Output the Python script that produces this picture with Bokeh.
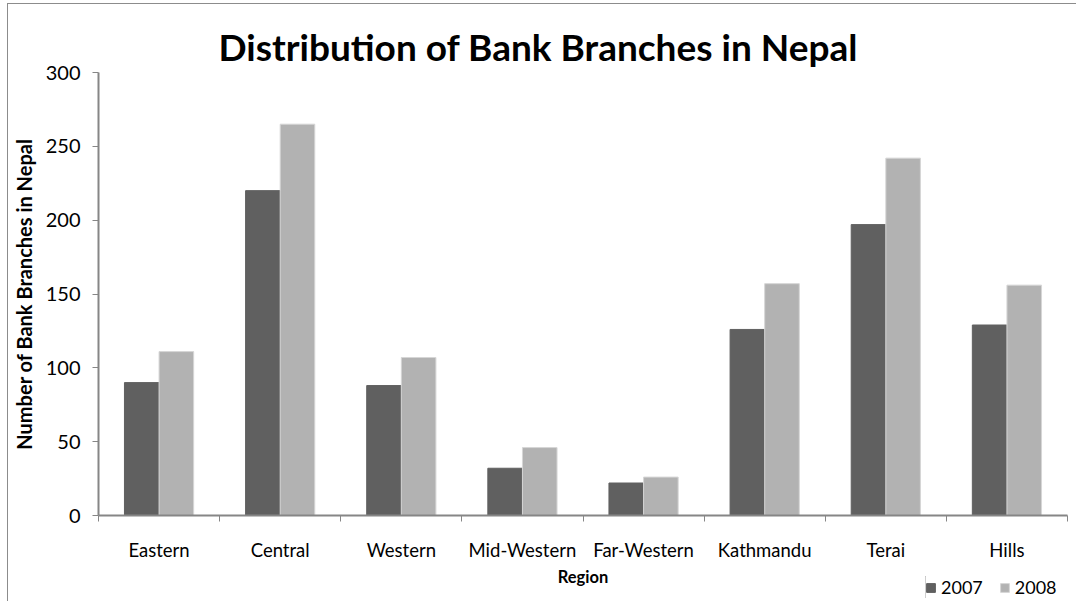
from bokeh.plotting import figure
from bokeh.models import Range1d, FixedTicker, Legend, LegendItem
from bokeh.layouts import column
from bokeh.embed import file_html
from bokeh.resources import INLINE
import numpy as np

regions = ["Eastern", "Central", "Western", "Mid-Western", "Far-Western", "Kathmandu", "Terai", "Hills"]
branches_2007 = [90, 220, 88, 32, 22, 126, 197, 129]
branches_2008 = [111, 265, 107, 46, 26, 157, 242, 156]
years = ["2007", "2008"]
y_ticks = [0, 50, 100, 150, 200, 250, 300]

FONT = "Lato"
AXIS_COLOR = "#868686"
DARK = "#606060"
LIGHT = "#b2b2b2"
LIGHT_EDGE = "#d6d6d6"

p = figure(width=1069, height=598, output_backend="svg", toolbar_location=None,
           x_range=Range1d(0, len(regions)), y_range=Range1d(0, 300),
           min_border_left=89, min_border_right=10, min_border_top=68, min_border_bottom=87)
p.margin = (3, 0, 0, 7)

centers = np.arange(len(regions)) + 0.5
bw = 1 / 3.5
p.vbar(x=centers - bw / 2, top=branches_2007, width=bw, fill_color=DARK, line_color=DARK)
p.vbar(x=centers + bw / 2, top=branches_2008, width=bw, fill_color=LIGHT, line_color=LIGHT_EDGE)

p.title.text = "Distribution of Bank Branches in Nepal"
p.title.text_font = FONT
p.title.text_font_size = "37px"
p.title.text_font_style = "bold"
p.title.align = "left"
p.title.offset = 120
p.title.standoff = 8
p.title.text_color = "#000000"

p.xgrid.visible = False
p.ygrid.visible = False
p.outline_line_color = None

# x axis: labels at category centres, ticks at category boundaries
p.xaxis.ticker = FixedTicker(ticks=list(centers), minor_ticks=list(range(len(regions) + 1)))
p.xaxis.major_label_overrides = {float(c): r for c, r in zip(centers, regions)}
p.xaxis.major_tick_line_color = None
p.xaxis.major_tick_out = 0
p.xaxis.major_tick_in = 0
p.xaxis.minor_tick_out = 6
p.xaxis.minor_tick_in = 0
p.xaxis.minor_tick_line_color = AXIS_COLOR
p.xaxis.axis_line_color = AXIS_COLOR
p.xaxis.axis_line_width = 2
p.xaxis.major_label_standoff = 17
p.xaxis.major_label_text_font_size = "18.5px"
p.xaxis.axis_label = "Region"
p.xaxis.axis_label_text_font_size = "16.5px"
p.xaxis.axis_label_standoff = 3

p.yaxis.ticker = FixedTicker(ticks=y_ticks)
p.yaxis.minor_tick_line_color = None
p.yaxis.major_tick_out = 6
p.yaxis.major_tick_in = 0
p.yaxis.major_tick_line_color = AXIS_COLOR
p.yaxis.axis_line_color = AXIS_COLOR
p.yaxis.axis_line_width = 2
p.yaxis.major_label_standoff = 12
p.yaxis.major_label_text_font_size = "20px"
p.yaxis.axis_label = "Number of Bank Branches in Nepal"
p.yaxis.axis_label_text_font_size = "20px"
p.yaxis.axis_label_standoff = 7

for ax in (p.xaxis, p.yaxis):
    ax.major_label_text_font = FONT
    ax.major_label_text_color = "#000000"
    ax.axis_label_text_font = FONT
    ax.axis_label_text_font_style = "bold"
    ax.axis_label_text_color = "#000000"

p.styles = {"border-left": "1px solid #8c8c8c", "border-top": "1px solid #8c8c8c"}

# legend strip, laid over the bottom right corner of the chart
# (its frame is aligned with the chart's frame by the column layout)
leg = figure(width=240, height=22, output_backend="svg", toolbar_location=None,
             x_range=Range1d(100, 101), y_range=Range1d(0, 1),
             x_axis_type=None, y_axis_type=None,
             min_border=0, min_border_left=89, min_border_right=10,
             min_border_top=0, min_border_bottom=0)
leg.margin = (-25, 0, 0, 835)
leg.title.visible = False
leg.xgrid.visible = False
leg.ygrid.visible = False
leg.outline_line_color = None
lr1 = leg.vbar(x=centers - bw / 2, top=branches_2007, width=bw, fill_color=DARK, line_color=DARK)
lr2 = leg.vbar(x=centers + bw / 2, top=branches_2008, width=bw, fill_color=LIGHT, line_color=LIGHT_EDGE)
legend = Legend(items=[LegendItem(label=years[0], renderers=[lr1]),
                       LegendItem(label=years[1], renderers=[lr2])],
                location=(0, 0), orientation="horizontal",
                glyph_width=11, glyph_height=11, label_standoff=5, spacing=16,
                padding=0, margin=0, border_line_color=None, background_fill_alpha=0,
                label_text_font=FONT, label_text_font_size="18px",
                label_text_color="#000000")
leg.add_layout(legend, "center")

layout = column(p, leg, spacing=0)
open("out.html", "w").write(file_html(layout, INLINE))
